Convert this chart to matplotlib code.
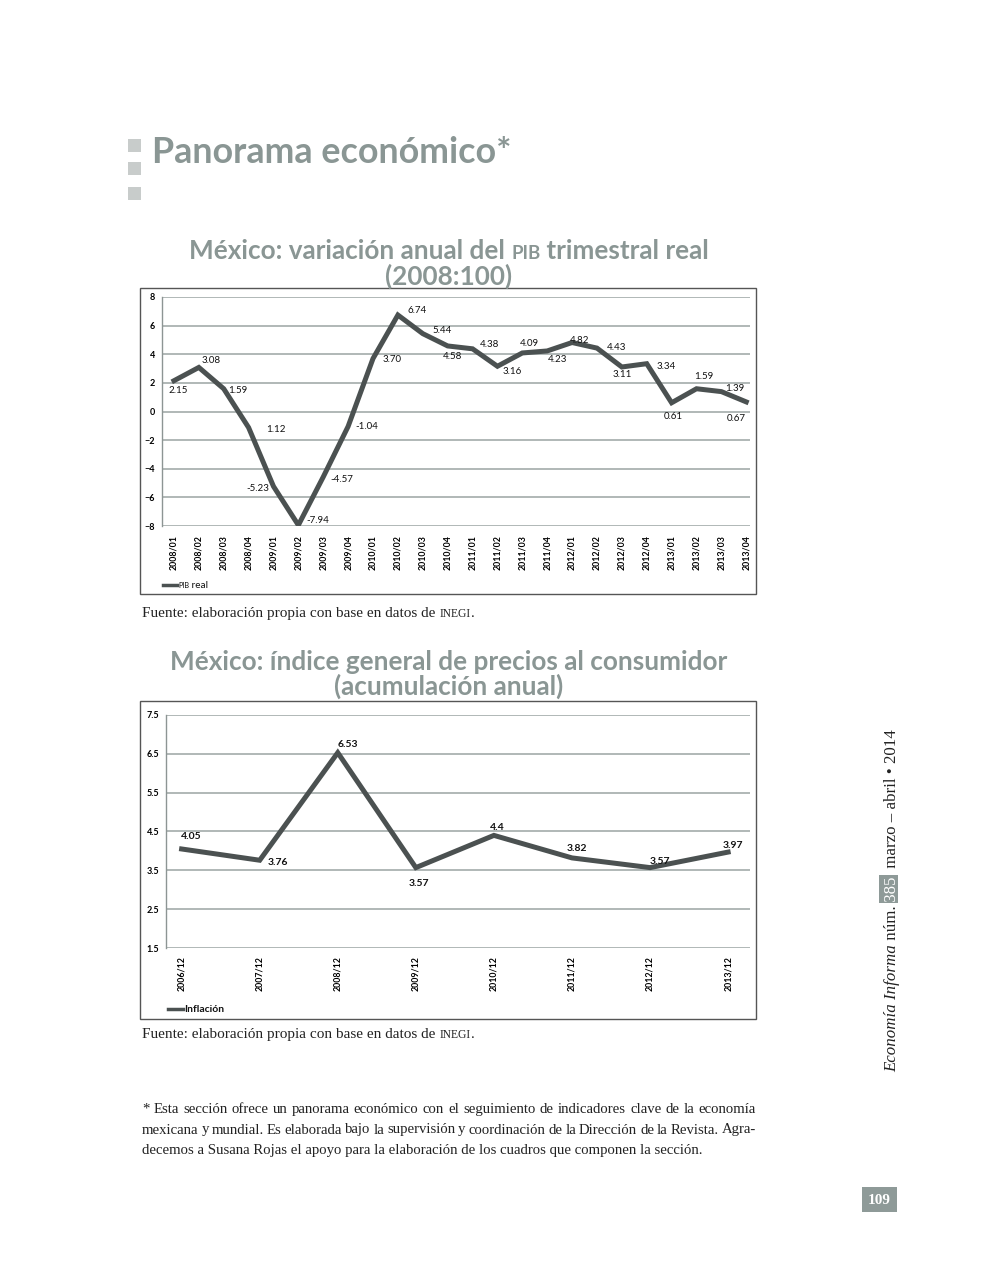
import matplotlib
matplotlib.use("Agg")
import matplotlib.pyplot as plt
from matplotlib.patches import Rectangle
from matplotlib.lines import Line2D

# ---- data ----
pib_periods = ['2008/01', '2008/02', '2008/03', '2008/04', '2009/01', '2009/02', '2009/03', '2009/04',
               '2010/01', '2010/02', '2010/03', '2010/04', '2011/01', '2011/02', '2011/03', '2011/04',
               '2012/01', '2012/02', '2012/03', '2012/04', '2013/01', '2013/02', '2013/03', '2013/04']
pib_values = [2.15, 3.08, 1.59, -1.12, -5.23, -7.94, -4.57, -1.04, 3.70, 6.74, 5.44, 4.58,
              4.38, 3.16, 4.09, 4.23, 4.82, 4.43, 3.11, 3.34, 0.61, 1.59, 1.39, 0.67]
pib_labels = ['2.15', '3.08', '1.59', '1.12', '-5.23', '-7.94', '-4.57', '-1.04', '3.70', '6.74', '5.44', '4.58',
              '4.38', '3.16', '4.09', '4.23', '4.82', '4.43', '3.11', '3.34', '0.61', '1.59', '1.39', '0.67']
inf_periods = ['2006/12', '2007/12', '2008/12', '2009/12', '2010/12', '2011/12', '2012/12', '2013/12']
inf_values = [4.05, 3.76, 6.53, 3.57, 4.4, 3.82, 3.57, 3.97]

# label offsets in pixels (dx, dy up)
pib_off = [(4, -10), (12, 7), (14, -2), (27, -2), (-16, -2), (19, 5), (19, -3), (19, 0),
           (19, -1), (19, 5), (19, 3), (5, -11), (17, 4), (15, -5), (7, 9), (10, -9),
           (7, 2), (20, 1), (0, -8), (19, -3), (2, -14), (7, 12), (13, 3), (-10, -17)]
inf_off = [(10, 12), (18, -2), (10, 8), (3, -16), (3, 8), (5, 9), (10, 6), (5, 7)]

W, H = 992, 1276
GRAY_T = '#8a9694'
LINE = '#4b5151'
GRID = '#a3acaa'
SANS = 'Lato'
SERIF = 'Liberation Serif'

fig = plt.figure(figsize=(W / 100, H / 100), dpi=100)
fig.patch.set_facecolor('white')
renderer = fig.canvas.get_renderer()


def fx(x): return x / W
def fy(y): return 1 - y / H


def axes_px(x0, y0, x1, y1):
    return fig.add_axes([fx(x0), fy(y1), (x1 - x0) / W, (y1 - y0) / H])


def rect_px(x0, y0, x1, y1, **kw):
    fig.add_artist(Rectangle((fx(x0), fy(y1)), (x1 - x0) / W, (y1 - y0) / H,
                             transform=fig.transFigure, **kw))


def seq_text(x, y, parts, ha='center', **kw):
    # parts: list of (string, size, extra px after); draws them in a row, baseline at y
    arts = []
    for s, size, _ in parts:
        arts.append(fig.text(0, fy(y), s, fontsize=size, va='baseline', ha='left', **kw))
    widths = [t.get_window_extent(renderer).width + p[2] for t, p in zip(arts, parts)]
    start = x - sum(widths) / 2 if ha == 'center' else x
    for t, w in zip(arts, widths):
        t.set_x(fx(start))
        start += w


def justify(x0, x1, y, line, size, last=False):
    if last:
        fig.text(fx(x0), fy(y), line, fontsize=size, family=SERIF, color='#222', va='baseline')
        return
    words = line.split(' ')
    arts = [fig.text(0, fy(y), w, fontsize=size, family=SERIF, color='#222', va='baseline')
            for w in words]
    widths = [t.get_window_extent(renderer).width for t in arts]
    gap = (x1 - x0 - sum(widths)) / (len(words) - 1)
    pos = x0
    for t, w in zip(arts, widths):
        t.set_x(fx(pos))
        pos += w + gap


# ---- header ----
for yy in (139, 162, 187):
    rect_px(128, yy, 141, yy + 13, color='#c8cccb', lw=0)
fig.text(fx(152), fy(163), 'Panorama económico*', fontsize=25.8, fontweight='bold',
         family=SANS, color=GRAY_T, va='baseline')


def style_axes(ax, yticks, ylim, xlim, labels, pad_x):
    ax.set_ylim(*ylim)
    ax.set_xlim(*xlim)
    ax.set_yticks(yticks)
    ax.set_xticks(range(len(labels)))
    ax.set_xticklabels(labels, rotation=90, fontsize=6.3, family=SANS, fontweight='bold')
    for lab in ax.get_yticklabels():
        lab.set_fontsize(6.5)
        lab.set_family(SANS)
        lab.set_fontweight('bold')
    ax.tick_params(length=0, pad=5)
    ax.tick_params(axis='x', pad=pad_x)
    ax.grid(axis='y', color=GRID, lw=1.2)
    ax.set_axisbelow(True)
    for s in ('top', 'right', 'bottom'):
        ax.spines[s].set_visible(False)
    ax.spines['left'].set_color('#8d9594')
    ax.spines['left'].set_linewidth(1.0)
    ax.set_facecolor('none')


TS = 18.8

# ---- chart 1 ----
seq_text(449, 259, [('México: variación anual del ', TS, 0), ('PIB', TS * 0.72, 0),
                    (' trimestral real', TS, 0)],
         family=SANS, fontweight='bold', color=GRAY_T)
fig.text(fx(449), fy(285), '(2008:100)', fontsize=TS, family=SANS, fontweight='bold',
         color=GRAY_T, ha='center', va='baseline')
rect_px(140, 288, 756, 594, fill=False, ec='#555', lw=1)

ax1 = axes_px(162, 297, 750, 526)
x1 = list(range(len(pib_periods)))
ax1.plot(x1, pib_values, color=LINE, lw=3.6, solid_joinstyle='miter')
style_axes(ax1, range(-8, 9, 2), (-8, 8), (-0.48, 23.15), pib_periods, 6.5)
for xi, v, lab, (dx, dy) in zip(x1, pib_values, pib_labels, pib_off):
    ax1.annotate(lab, (xi, v), xytext=(dx, dy), textcoords='offset pixels', ha='center',
                 va='center', fontsize=7, family=SANS, color='#111')

fig.add_artist(Line2D([fx(163), fx(177)], [fy(585), fy(585)], color=LINE, lw=2.5,
                      transform=fig.transFigure))
seq_text(178, 588, [('PIB', 5.3, 0), (' real', 7.2, 0)], ha='left', family=SANS, color='#111')

seq_text(142, 617, [('Fuente: elaboración propia con base en datos de ', 11, 0), ('INEGI', 8.3, 1),
                    ('.', 11, 0)], ha='left', family=SERIF, color='#222')

# ---- chart 2 ----
fig.text(fx(449), fy(670), 'México: índice general de precios al consumidor', fontsize=TS,
         family=SANS, fontweight='bold', color=GRAY_T, ha='center', va='baseline')
fig.text(fx(449), fy(695), '(acumulación anual)', fontsize=TS, family=SANS, fontweight='bold',
         color=GRAY_T, ha='center', va='baseline')
rect_px(140, 701, 756, 1019, fill=False, ec='#555', lw=1)

ax2 = axes_px(166, 715, 750, 948)
x2 = list(range(len(inf_periods)))
ax2.plot(x2, inf_values, color=LINE, lw=3.6, solid_joinstyle='miter')
style_axes(ax2, [1.5, 2.5, 3.5, 4.5, 5.5, 6.5, 7.5], (1.5, 7.5), (-0.2, 7.28), inf_periods, 6.0)
ax2.set_yticklabels(['1.5', '2.5', '3.5', '4.5', '5.5', '6.5', '7.5'], fontsize=6.5,
                    family=SANS, fontweight='bold')
for xi, v, (dx, dy) in zip(x2, inf_values, inf_off):
    ax2.annotate(f'{v:g}', (xi, v), xytext=(dx, dy), textcoords='offset pixels', ha='center',
                 va='center', fontsize=7.5, family=SANS, fontweight='bold', color='#111')

fig.add_artist(Line2D([fx(168), fx(183)], [fy(1009), fy(1009)], color=LINE, lw=2.5,
                      transform=fig.transFigure))
fig.text(fx(184), fy(1012), 'Inflación', fontsize=7.5, family=SANS, fontweight='bold',
         color='#111', va='baseline')

seq_text(142, 1038, [('Fuente: elaboración propia con base en datos de ', 11, 0), ('INEGI', 8.3, 1),
                     ('.', 11, 0)], ha='left', family=SERIF, color='#222')

# ---- footnote ----
foot = ['* Esta sección ofrece un panorama económico con el seguimiento de indicadores clave de la economía',
        'mexicana y mundial. Es elaborada bajo la supervisión y coordinación de la Dirección de la Revista. Agra-',
        'decemos a Susana Rojas el apoyo para la elaboración de los cuadros que componen la sección.']
for i, line in enumerate(foot):
    justify(142, 756, 1113 + i * 20.5, line, 10.6, last=(i == 2))

# ---- side text ----
xb = 896
ypos = 1072
parts = [('Economía Informa', 'italic', 'normal'), (' núm.', 'normal', 'normal'),
         (' 385 ', 'normal', 'box'), (' marzo – abril • 2014', 'normal', 'normal')]
for s, style, kind in parts:
    t = fig.text(fx(xb), fy(ypos), s, fontsize=12.2, family=SERIF, style=style, rotation=90,
                 rotation_mode='anchor', ha='left', va='baseline',
                 color='white' if kind == 'box' else '#222')
    h = t.get_window_extent(renderer).height
    if kind == 'box':
        rect_px(879, ypos - h + 3, 898, ypos - 3, color='#8e9a98', lw=0, zorder=-1)
    ypos -= h

# ---- page number ----
rect_px(862, 1187, 897, 1212, color='#8e9a98', lw=0)
fig.text(fx(879.5), fy(1200), '109', fontsize=11, family=SERIF, fontweight='bold',
         color='white', ha='center', va='center')

fig.savefig('out.png', dpi=100, facecolor='white')
